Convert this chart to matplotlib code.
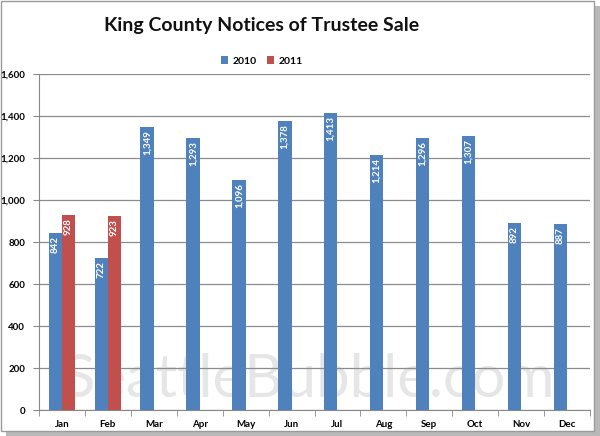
import matplotlib.pyplot as plt
import numpy as np
from matplotlib.patches import Rectangle

months = ["Jan", "Feb", "Mar", "Apr", "May", "Jun", "Jul", "Aug", "Sep", "Oct", "Nov", "Dec"]
sales_2010 = [842, 722, 1349, 1293, 1096, 1378, 1413, 1214, 1296, 1307, 892, 887]
sales_2011 = [928, 923]

blue = "#4f81bd"
red = "#c0504d"

plt.rcParams['font.family'] = ['Lato', 'DejaVu Sans']

fig = plt.figure(figsize=(6, 4.36), dpi=100)
ax = fig.add_axes([39 / 600, 1 - 410 / 436, 551 / 600, 336 / 436])

# рамка с тенью
fig.patches.append(Rectangle((6 / 600, 0), 594 / 600, 430 / 436, transform=fig.transFigure,
                             facecolor="#b8b8b8", edgecolor="none", zorder=-3))
fig.patches.append(Rectangle((1 / 600, 5 / 436), 593 / 600, 430 / 436, transform=fig.transFigure,
                             facecolor="white", edgecolor="#9a9a9a", linewidth=1, zorder=-2))

x = np.arange(len(months))
w = 0.29
bars1 = ax.bar(x - w / 2, sales_2010, w, color=blue, label="2010", zorder=3)
bars2 = ax.bar(x[:len(sales_2011)] + w / 2, sales_2011, w, color=red, label="2011", zorder=3)

for bars in (bars1, bars2):
    for b in bars:
        h = b.get_height()
        ax.text(b.get_x() + b.get_width() / 2, h - 15, f"{int(h):,}", rotation=90,
                ha="center", va="top", color="white", fontsize=7, fontweight="bold", zorder=4)

ax.set_xlim(-0.5, 11.5)
ax.set_ylim(0, 1600)
ax.set_yticks(range(0, 1601, 200))
ax.set_yticklabels([f"{v:,}" for v in range(0, 1601, 200)], fontsize=7, fontweight="bold")
ax.set_xticks(x)
ax.set_xticklabels(months, fontsize=7, fontweight="bold")
ax.set_xticks(np.arange(-0.5, 12, 1), minor=True)
ax.tick_params(axis="x", which="major", length=0, pad=7)
ax.tick_params(axis="x", which="minor", length=4, color="#888888")
ax.tick_params(axis="y", length=4, color="#888888", pad=6)
ax.grid(axis="y", color="#8c8c8c", linewidth=0.9, zorder=0)
for s in ["top", "right"]:
    ax.spines[s].set_visible(False)
ax.spines["left"].set_color("#888888")
ax.spines["bottom"].set_color("#888888")
ax.set_facecolor("none")

fig.text(262 / 600, 1 - 26 / 436, "King County Notices of Trustee Sale", ha="center", va="center",
         fontsize=14, fontweight="bold", color="#111111")
ax.legend(loc="center", bbox_to_anchor=((262 - 39) / 551, 1 + 13 / 336), ncol=2, frameon=False,
          prop={"weight": "bold", "size": 7.5}, handlelength=0.7, handleheight=0.7, columnspacing=1.0,
          handletextpad=0.4)

# водяной знак
fig.text(308 / 600, 1 - 380 / 436, "SeattleBubble.com", ha="center", va="center", fontsize=43,
         color="#e6e6e6", zorder=-1)

fig.savefig("out.png", dpi=100)
